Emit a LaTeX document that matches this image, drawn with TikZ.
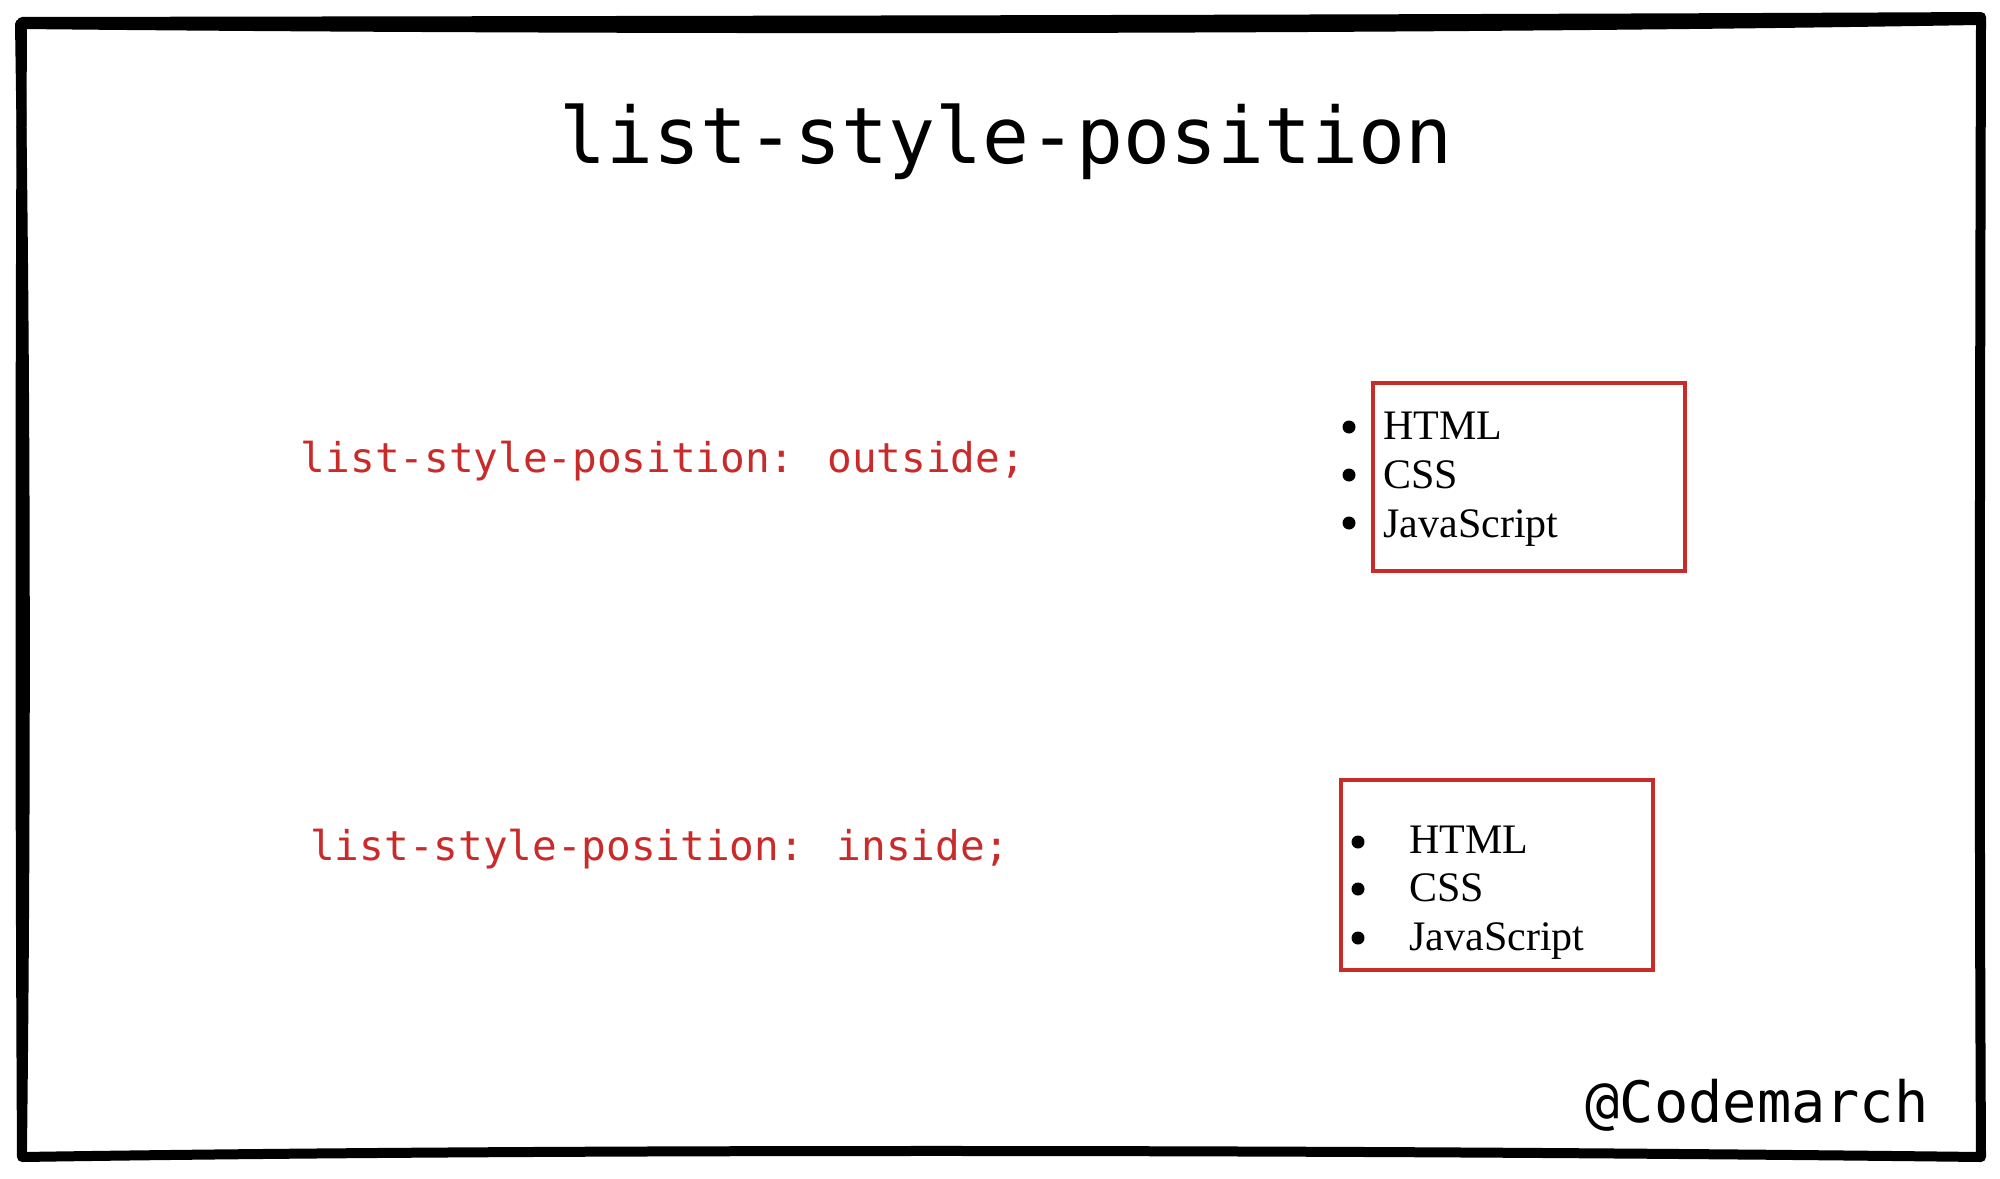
\documentclass[tikz,border=0pt]{standalone}
\usepackage{fontspec}
\newfontfamily\codefont{DejaVu Sans Mono}
\newfontfamily\listfont{Liberation Serif}
\definecolor{codered}{RGB}{201,42,42}
\begin{document}
\begin{tikzpicture}[x=0.5pt,y=-0.5pt,
  frame/.style={line width=5pt, line cap=round, line join=round, black},
  titletext/.style={inner sep=0, anchor=base, font=\codefont\fontsize{39pt}{39pt}\selectfont},
  codetext/.style={inner sep=0, anchor=base, text=codered, font=\codefont\fontsize{20.5pt}{20.5pt}\selectfont},
  signtext/.style={inner sep=0, anchor=base, font=\codefont\fontsize{28.5pt}{28.5pt}\selectfont},
  itemtext/.style={inner sep=0, anchor=base west, font=\listfont\fontsize{21pt}{21pt}\selectfont},
  bulletdot/.style={circle, fill=black, inner sep=0, minimum size=6.5pt},
  redbox/.style={draw=codered, line width=2pt, inner sep=0, rectangle}
]
\useasboundingbox (0,0) rectangle (2000,1178);
\fill[white] (0,0) rectangle (2000,1178);
% hand-drawn frame
\draw[frame] (22,22) .. controls (600,21) and (1400,20) .. (1981,17)
  .. controls (1980,400) and (1979,800) .. (1981,1157)
  .. controls (1400,1150) and (600,1148) .. (22,1157)
  .. controls (20,800) and (20,400) .. (22,22);
\draw[frame] (22,24) .. controls (600,30) and (1400,30) .. (1978,20);
\draw[frame] (20,24) .. controls (26,400) and (26,800) .. (22,1150);
% title
\node[titletext] (title) at (1006,163) {list-style-position};
% code lines
\node[codetext] (outside) at (663,472) {list-style-position: outside;};
\node[codetext] (inside) at (660,860) {list-style-position: inside;};
% box 1 (outside)
\node[redbox, minimum width=156pt, minimum height=94pt] (box1) at (1529,477) {};
\node[bulletdot] (b11) at (1349,427) {};
\node[bulletdot] (b12) at (1349,475) {};
\node[bulletdot] (b13) at (1349,523) {};
\node[itemtext] (t11) at (1383,439) {HTML};
\node[itemtext] (t12) at (1383,488) {CSS};
\node[itemtext] (t13) at (1383,537) {JavaScript};
% box 2 (inside)
\node[redbox, minimum width=156pt, minimum height=95pt] (box2) at (1497,875) {};
\node[bulletdot] (b21) at (1358,842) {};
\node[bulletdot] (b22) at (1358,889) {};
\node[bulletdot] (b23) at (1358,938) {};
\node[itemtext] (t21) at (1409,853) {HTML};
\node[itemtext] (t22) at (1409,901) {CSS};
\node[itemtext] (t23) at (1409,950) {JavaScript};
% signature
\node[signtext] (sign) at (1757,1122) {@Codemarch};
\end{tikzpicture}
\end{document}
